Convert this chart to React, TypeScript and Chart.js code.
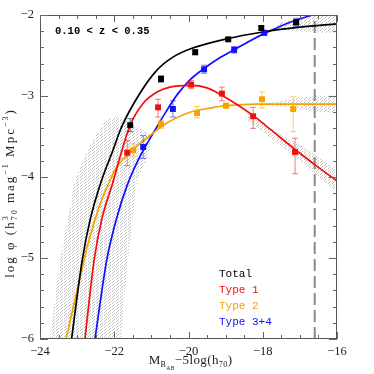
import React, { useEffect, useRef } from "react";
import { Chart, registerables } from "chart.js";

Chart.register(...registerables);

// ---------------- data ----------------
const xTickLabels = ["−24", "−22", "−20", "−18", "−16"];
const yTickLabels = ["−6", "−5", "−4", "−3", "−2"];

const totalM = [-21.57, -20.74, -19.82, -18.93, -18.04, -17.1];
const totalLogPhi = [-3.36, -2.79, -2.46, -2.3, -2.16, -2.09];
const totalErr = [0.08, 0.04, 0.03, 0.02, 0.02, 0.03];

const type1M = [-21.65, -20.82, -19.93, -19.1, -18.26, -17.13];
const type1LogPhi = [-3.7, -3.14, -2.86, -2.97, -3.25, -3.69];
const type1ErrUp = [0.15, 0.1, 0.05, 0.08, 0.11, 0.17];
const type1ErrDn = [0.16, 0.12, 0.05, 0.09, 0.15, 0.27];

const type2M = [-21.49, -20.74, -19.77, -18.99, -18.02, -17.18];
const type2LogPhi = [-3.67, -3.35, -3.21, -3.12, -3.04, -3.16];
const type2ErrUp = [0.08, 0.05, 0.08, 0.03, 0.09, 0.15];
const type2ErrDn = [0.08, 0.05, 0.06, 0.03, 0.11, 0.28];

const type34M = [-21.22, -20.42, -19.58, -18.77, -17.96, -17.1];
const type34LogPhi = [-3.63, -3.16, -2.67, -2.43, -2.22, -2.09];
const type34Err = [0.14, 0.1, 0.05, 0.04, 0.03, 0.05];

// fitted curves
const fitTotalM = [-23.15, -22.86, -22.65, -22.34, -22.06, -21.8, -21.3, -20.85, -20.42, -19.96, -18.93, -18.0, -17.0, -16.0];
const fitTotalLogPhi = [-6.0, -5.02, -4.53, -4.04, -3.7, -3.38, -2.96, -2.68, -2.52, -2.42, -2.29, -2.21, -2.15, -2.11];

const fitType1M = [-22.79, -22.54, -22.34, -22.02, -21.85, -21.57, -21.22, -20.85, -20.5, -19.96, -19.5, -19.07, -18.61, -18.15, -17.8, -17.13, -16.59, -16.0];
const fitType1LogPhi = [-6.0, -5.02, -4.53, -4.04, -3.76, -3.36, -3.09, -2.95, -2.89, -2.87, -2.9, -3.0, -3.13, -3.28, -3.41, -3.66, -3.85, -4.05];

const fitType2M = [-23.3, -22.95, -22.74, -22.52, -22.34, -22.11, -21.98, -21.57, -21.12, -20.68, -19.96, -19.42, -18.99, -18.15, -17.26, -16.0];
const fitType2LogPhi = [-6.0, -5.3, -4.88, -4.53, -4.28, -4.04, -3.91, -3.69, -3.52, -3.36, -3.2, -3.15, -3.12, -3.1, -3.1, -3.1];

const fitType34M = [-22.52, -22.2, -21.93, -21.65, -21.3, -20.9, -20.6, -20.3, -19.96, -19.58, -19.2, -18.77, -18.35, -17.96, -17.26, -16.6, -16.0];
const fitType34LogPhi = [-6.0, -5.02, -4.5, -4.1, -3.74, -3.42, -3.19, -2.98, -2.8, -2.66, -2.54, -2.43, -2.32, -2.23, -2.09, -1.99, -1.91];

// uncertainty envelopes (closed outlines)
const bandSteep: [number, number][] = [
  [-23.75, -6.05], [-23.46, -5.02], [-23.06, -4.04], [-22.7, -3.65], [-22.25, -3.3],
  [-21.9, -3.25], [-21.5, -3.35], [-20.95, -3.5], [-21.1, -3.75], [-21.39, -4.04],
  [-21.63, -5.02], [-21.84, -6.05], [-23.75, -6.05],
];
const bandTotalBright: [number, number][] = [
  [-17.6, -2.1], [-17.0, -2.04], [-16.5, -2.0], [-16.0, -2.0], [-16.0, -2.22],
  [-16.5, -2.22], [-17.0, -2.2], [-17.6, -2.18], [-17.6, -2.1],
];
const bandType2Faint: [number, number][] = [
  [-17.9, -3.09], [-17.0, -3.02], [-16.5, -3.0], [-16.0, -2.99], [-16.0, -3.21],
  [-16.5, -3.19], [-17.0, -3.16], [-17.9, -3.11], [-17.9, -3.09],
];
const bandType1Faint: [number, number][] = [
  [-18.4, -3.22], [-17.5, -3.48], [-17.0, -3.6], [-16.5, -3.75], [-16.0, -3.91],
  [-16.0, -4.19], [-16.5, -4.0], [-17.0, -3.8], [-17.5, -3.62], [-18.4, -3.3], [-18.4, -3.22],
];

const completenessLimitM = [-16.6, -16.6];
const completenessLimitLogPhi = [-6, -2];

const seriesNames = ["Total", "Type 1", "Type 2", "Type 3+4"];
const seriesColors = ["#000000", "#f01010", "#f5a300", "#1010ff"];
const errColors = ["rgba(0,0,0,0.55)", "rgba(240,16,16,0.55)", "rgba(245,163,0,0.55)", "rgba(16,16,255,0.55)"];
const redshiftLabel = "0.10 < z < 0.35";

// ---------------- helpers ----------------
const SERIF = "'Liberation Serif', 'DejaVu Serif', serif";
const MONO = "'Liberation Mono', 'DejaVu Sans Mono', monospace";

const pts = (xs: number[], ys: number[]) => xs.map((x, i) => ({ x, y: ys[i] }));
const poly = (p: [number, number][]) => p.map(([x, y]) => ({ x, y }));

type Seg = { t: string; size: number; dy: number; stack?: { t: string; size: number; dy: number } };

function segWidth(ctx: CanvasRenderingContext2D, s: Seg, ls: number) {
  const w = (t: string, size: number) => {
    ctx.font = `${size}px ${SERIF}`;
    let tot = 0;
    for (const ch of t) tot += ctx.measureText(ch).width + ls;
    return tot;
  };
  let wd = w(s.t, s.size);
  if (s.stack) wd = Math.max(wd, w(s.stack.t, s.stack.size));
  return wd;
}

function drawRich(ctx: CanvasRenderingContext2D, segs: Seg[], cx: number, y: number, ls: number) {
  const total = segs.reduce((a, s) => a + segWidth(ctx, s, ls), 0);
  let x = cx - total / 2;
  for (const s of segs) {
    const draw = (t: string, size: number, dy: number) => {
      ctx.font = `${size}px ${SERIF}`;
      let xx = x;
      for (const ch of t) {
        ctx.fillText(ch, xx, y + dy);
        xx += ctx.measureText(ch).width + ls;
      }
    };
    draw(s.t, s.size, s.dy);
    if (s.stack) draw(s.stack.t, s.stack.size, s.stack.dy);
    x += segWidth(ctx, s, ls);
  }
}

const xTitle: Seg[] = [
  { t: "M", size: 13, dy: 0 },
  { t: "B", size: 8, dy: 3 },
  { t: "AB", size: 5.5, dy: 5.5 },
  { t: "−5log(h", size: 13, dy: 0 },
  { t: "70", size: 8, dy: 3 },
  { t: ")", size: 13, dy: 0 },
];
const yTitle: Seg[] = [
  { t: "log φ (h", size: 13, dy: 0 },
  { t: "3", size: 8, dy: -6, stack: { t: "70", size: 8, dy: 3 } },
  { t: " mag", size: 13, dy: 0 },
  { t: "−1", size: 8, dy: -6 },
  { t: " Mpc", size: 13, dy: 0 },
  { t: "−3", size: 8, dy: -6 },
  { t: ")", size: 13, dy: 0 },
];

const decorPlugin = {
  id: "decor",
  beforeDatasetDraw(chart: any, args: any) {
    const ds = chart.data.datasets[args.index];
    if (!ds.errUp) return;
    const ctx = chart.ctx;
    const xs = chart.scales.x;
    const ys = chart.scales.y;
    ctx.save();
    ctx.strokeStyle = ds.errColor;
    ctx.lineWidth = 1;
    ds.data.forEach((p: any, i: number) => {
      const px = xs.getPixelForValue(p.x);
      const y1 = ys.getPixelForValue(p.y + ds.errUp[i]);
      const y2 = ys.getPixelForValue(p.y - ds.errDn[i]);
      ctx.beginPath();
      ctx.moveTo(px, y1);
      ctx.lineTo(px, y2);
      ctx.moveTo(px - 3, y1);
      ctx.lineTo(px + 3, y1);
      ctx.moveTo(px - 3, y2);
      ctx.lineTo(px + 3, y2);
      ctx.stroke();
    });
    ctx.restore();
  },
  afterDraw(chart: any) {
    const ctx: CanvasRenderingContext2D = chart.ctx;
    const { left, right, top, bottom } = chart.chartArea;
    const xs = chart.scales.x;
    const ys = chart.scales.y;
    ctx.save();
    // frame
    ctx.strokeStyle = "#555";
    ctx.lineWidth = 1;
    ctx.strokeRect(left + 0.5, top + 0.5, right - left - 1, bottom - top - 1);
    // inward ticks
    ctx.strokeStyle = "#666";
    ctx.beginPath();
    for (let v = -24; v <= -16 + 1e-6; v += 0.5) {
      const px = Math.round(xs.getPixelForValue(v)) + 0.5;
      const major = Math.abs(v / 2 - Math.round(v / 2)) < 1e-6;
      const L = major ? 7 : 4;
      ctx.moveTo(px, bottom);
      ctx.lineTo(px, bottom - L);
      ctx.moveTo(px, top);
      ctx.lineTo(px, top + L);
    }
    for (let v = -6; v <= -2 + 1e-6; v += 0.2) {
      const py = Math.round(ys.getPixelForValue(v)) + 0.5;
      const major = Math.abs(v - Math.round(v)) < 1e-6;
      const L = major ? 8 : 4;
      ctx.moveTo(left, py);
      ctx.lineTo(left + L, py);
      ctx.moveTo(right, py);
      ctx.lineTo(right - L, py);
    }
    ctx.stroke();

    // axis titles
    ctx.fillStyle = "#222";
    ctx.textBaseline = "alphabetic";
    ctx.textAlign = "left";
    drawRich(ctx, xTitle, (left + right) / 2 + 2, 364, 0.4);
    ctx.save();
    ctx.translate(14, (top + bottom) / 2 + 16);
    ctx.rotate(-Math.PI / 2);
    drawRich(ctx, yTitle, 0, 0, 2.0);
    ctx.restore();

    // redshift label
    ctx.fillStyle = "#000";
    ctx.textBaseline = "middle";
    ctx.font = `bold 10.5px ${MONO}`;
    ctx.fillText(redshiftLabel, left + 15, top + 16);

    // legend text
    ctx.font = `11px ${MONO}`;
    seriesNames.forEach((n, i) => {
      ctx.fillStyle = seriesColors[i];
      ctx.fillText(n, left + 179, top + 259 + i * 16);
    });
    ctx.restore();
  },
};

export default function App() {
  const ref = useRef<HTMLCanvasElement | null>(null);

  useEffect(() => {
    const canvas = ref.current;
    if (!canvas) return;

    const pc = document.createElement("canvas");
    pc.width = 4;
    pc.height = 3;
    const pctx = pc.getContext("2d")!;
    pctx.fillStyle = "rgba(140,140,140,0.55)";
    pctx.fillRect(0, 0, 1, 1);
    pctx.fillRect(2, 1, 1, 1);
    pctx.fillRect(1, 2, 1, 1);
    const ctx0 = canvas.getContext("2d")!;
    const pattern = ctx0.createPattern(pc, "repeat");

    const pointSet = (i: number, xs: number[], ys: number[], up: number[], dn: number[]) => ({
      label: seriesNames[i] + " data",
      data: pts(xs, ys),
      showLine: false,
      pointStyle: "rect",
      pointRadius: 4.2,
      pointBorderWidth: 0,
      pointBackgroundColor: seriesColors[i],
      backgroundColor: seriesColors[i],
      errUp: up,
      errDn: dn,
      errColor: errColors[i],
    });
    const curveSet = (i: number, xs: number[], ys: number[]) => ({
      label: seriesNames[i] + " fit",
      data: pts(xs, ys),
      showLine: true,
      pointRadius: 0,
      borderColor: seriesColors[i],
      borderWidth: 1.7,
      cubicInterpolationMode: "monotone",
      fill: false,
      clip: 0,
    });
    const bandSet = (name: string, p: [number, number][]) => ({
      label: name,
      data: poly(p),
      showLine: true,
      pointRadius: 0,
      borderWidth: 0,
      borderColor: "rgba(0,0,0,0)",
      backgroundColor: pattern,
      fill: "shape",
      tension: 0,
      clip: 0,
    });

    const chart = new Chart(canvas, {
      type: "scatter",
      data: {
        datasets: [
          pointSet(0, totalM, totalLogPhi, totalErr, totalErr),
          pointSet(1, type1M, type1LogPhi, type1ErrUp, type1ErrDn),
          pointSet(2, type2M, type2LogPhi, type2ErrUp, type2ErrDn),
          pointSet(3, type34M, type34LogPhi, type34Err, type34Err),
          curveSet(0, fitTotalM, fitTotalLogPhi),
          curveSet(1, fitType1M, fitType1LogPhi),
          curveSet(2, fitType2M, fitType2LogPhi),
          curveSet(3, fitType34M, fitType34LogPhi),
          {
            label: "limit",
            data: pts(completenessLimitM, completenessLimitLogPhi),
            showLine: true,
            pointRadius: 0,
            borderColor: "#8a8a8a",
            borderWidth: 2,
            borderDash: [12, 5],
            clip: 0,
          },
          bandSet("band steep", bandSteep),
          bandSet("band total", bandTotalBright),
          bandSet("band type2", bandType2Faint),
          bandSet("band type1", bandType1Faint),
        ] as any,
      },
      options: {
        responsive: false,
        animation: false,
        events: [],
        layout: { padding: { left: 0, right: 37, top: 15, bottom: 0 } },
        plugins: { legend: { display: false }, tooltip: { enabled: false } },
        scales: {
          x: {
            type: "linear",
            min: -24,
            max: -16,
            grid: { display: false, drawTicks: false },
            border: { display: false },
            ticks: {
              stepSize: 2,
              padding: 5,
              color: "#222",
              font: { family: SERIF, size: 12.5 },
              maxRotation: 0,
              callback: (_v: any, i: number) => xTickLabels[i],
            },
            afterFit: (s: any) => {
              s.height = 35;
            },
          },
          y: {
            type: "linear",
            min: -6,
            max: -2,
            grid: { display: false, drawTicks: false },
            border: { display: false },
            ticks: {
              stepSize: 1,
              padding: 6,
              color: "#222",
              font: { family: SERIF, size: 12.5 },
              callback: (_v: any, i: number) => yTickLabels[i],
            },
            afterFit: (s: any) => {
              s.width = 40;
            },
          },
        },
      } as any,
      plugins: [decorPlugin],
    });
    return () => chart.destroy();
  }, []);

  return (
    <div style={{ position: "absolute", left: 0, top: 0, width: 374, height: 374, background: "#fff" }}>
      <canvas ref={ref} width={374} height={374} />
    </div>
  );
}
